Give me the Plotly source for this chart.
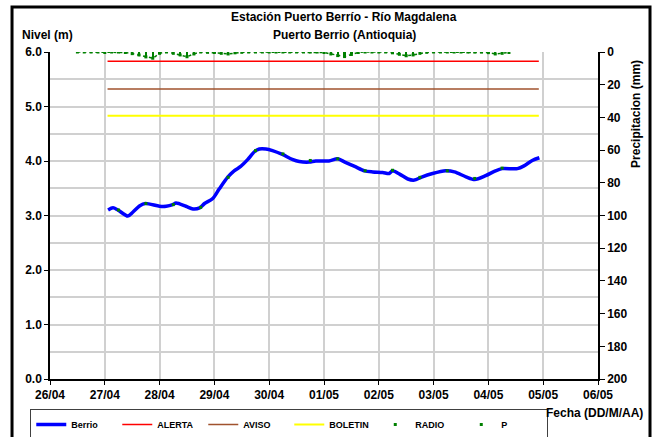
import pandas as pd
import plotly.graph_objects as go

BASE = pd.Timestamp("2011-04-26")

def to_dates(days):
    return [BASE + pd.Timedelta(days=d) for d in days]

# Nivel (m) - Berrio (days after 26/04 00:00)
berrio_days = [1.06, 1.15, 1.24, 1.42, 1.51, 1.64, 1.74, 2.0, 2.12, 2.24, 2.30, 2.48, 2.61, 2.73,
               2.82, 2.97, 3.09, 3.24, 3.36, 3.48, 3.61, 3.73, 3.82, 3.94, 4.06, 4.24, 4.42, 4.55,
               4.73, 4.85, 5.09, 5.25, 5.38, 5.56, 5.74, 5.89, 6.07, 6.19, 6.25, 6.38, 6.53, 6.65,
               6.77, 6.98, 7.22, 7.38, 7.59, 7.75, 7.95, 8.13, 8.25, 8.53, 8.65, 8.80, 8.93]
berrio_level = [3.10, 3.14, 3.10, 2.99, 3.06, 3.18, 3.22, 3.17, 3.17, 3.20, 3.23, 3.17, 3.12, 3.14,
                3.22, 3.31, 3.49, 3.70, 3.82, 3.90, 4.03, 4.17, 4.22, 4.22, 4.19, 4.12, 4.03, 3.99,
                3.98, 4.00, 4.00, 4.04, 3.98, 3.90, 3.82, 3.80, 3.79, 3.77, 3.82, 3.76, 3.67, 3.65,
                3.70, 3.77, 3.82, 3.80, 3.71, 3.66, 3.73, 3.82, 3.86, 3.86, 3.91, 4.01, 4.06]

# RADIO readings (m)
radio_days = [1.25, 1.75, 2.25, 2.75, 3.25, 3.75, 4.25, 4.75, 5.25, 5.75, 6.25, 6.75, 7.25, 7.75, 8.25]
radio_level = [3.10, 3.22, 3.20, 3.15, 3.70, 4.19, 4.13, 4.01, 4.04, 3.82, 3.83, 3.70, 3.82, 3.68, 3.87]

# Threshold levels (m)
threshold_days = [1.05, 8.92]
alerta = [5.83, 5.83]
aviso = [5.32, 5.32]
boletin = [4.83, 4.83]

# Precipitation P (mm), every 3 h from 26/04 12:00
p_days = [0.5 + 0.125 * i for i in range(64)]
p_mm = [0.0, 0.0, 0.0, 0.0, 0.3, 0.0, 0.0, 0.3,
        1.0, 1.8, 3.0, 3.8, 0.8, 0.0, 0.8, 1.8,
        2.9, 1.2, 0.0, 0.2, 0.3, 0.8, 1.2, 0.5,
        0.2, 0.0, 0.0, 0.0, 0.0, 0.0, 0.0, 0.0,
        0.0, 0.0, 0.0, 0.0, 0.3, 1.2, 2.2, 2.8,
        1.5, 0.3, 0.0, 0.0, 0.0, 0.0, 0.5, 1.4,
        2.3, 1.8, 0.8, 0.2, 0.0, 0.0, 0.0, 0.0,
        0.0, 0.0, 0.0, 0.0, 0.4, 1.2, 0.8, 0.3]

x_ticks = [BASE + pd.Timedelta(days=d) for d in range(11)]

FONT = "Arial, Liberation Sans, sans-serif"
GREEN = "#008000"

fig = go.Figure()
fig.add_trace(go.Scatter(x=to_dates(berrio_days), y=berrio_level, name="Berrio", mode="lines",
                         line=dict(color="#0000ff", width=3.5, shape="spline", smoothing=0.8)))
fig.add_trace(go.Scatter(x=to_dates(threshold_days), y=alerta, name="ALERTA", mode="lines",
                         line=dict(color="#ff0000", width=1.5)))
fig.add_trace(go.Scatter(x=to_dates(threshold_days), y=aviso, name="AVISO", mode="lines",
                         line=dict(color="#a0522d", width=1.5)))
fig.add_trace(go.Scatter(x=to_dates(threshold_days), y=boletin, name="BOLETIN", mode="lines",
                         line=dict(color="#ffff00", width=2)))
fig.add_trace(go.Scatter(x=to_dates(radio_days), y=radio_level, name="RADIO", mode="markers",
                         marker=dict(color=GREEN, size=3, symbol="square")))
fig.add_trace(go.Bar(x=to_dates(p_days), y=p_mm, name="P", yaxis="y2", showlegend=False,
                     width=3600000 * 1.0, marker=dict(color=GREEN, line=dict(width=0))))
fig.add_trace(go.Scatter(x=to_dates(p_days), y=p_mm, name="P", yaxis="y2", mode="lines",
                         showlegend=False, line=dict(color=GREEN, width=1.5, dash="dot")))
fig.add_trace(go.Scatter(x=to_dates(p_days), y=p_mm, name="P", yaxis="y2", mode="markers",
                         marker=dict(color=GREEN, size=3, symbol="square")))

tickfont = dict(family=FONT, size=12, color="black", weight="bold")

fig.update_layout(
    width=656, height=437,
    margin=dict(l=50, r=58, t=52, b=58, autoexpand=False),
    plot_bgcolor="white", paper_bgcolor="white",
    font=dict(family=FONT, color="black"),
    bargap=0,
    xaxis=dict(type="date", range=[x_ticks[0], x_ticks[-1]], tickvals=x_ticks, tickformat="%d/%m",
               showgrid=True, gridcolor="#d0d0d0", gridwidth=1.5, showline=True, linecolor="black",
               linewidth=1.5, ticks="outside", ticklen=4, tickcolor="black", tickfont=tickfont,
               zeroline=False, automargin=False),
    yaxis=dict(range=[0, 6], dtick=1, tickformat=".1f", showgrid=True, gridcolor="#d0d0d0",
               gridwidth=1.5, minor=dict(dtick=0.5, showgrid=True, gridcolor="#d0d0d0", gridwidth=1.5),
               showline=True, linecolor="black", linewidth=1.5, ticks="outside", ticklen=4,
               tickcolor="black", tickfont=tickfont, zeroline=False, automargin=False),
    yaxis2=dict(range=[200, 0], dtick=20, overlaying="y", side="right", showgrid=False,
                showline=True, linecolor="black", linewidth=1.5, ticks="outside", ticklen=5,
                tickcolor="black", tickfont=tickfont, zeroline=False, automargin=False),
    legend=dict(orientation="h", x=-0.036, y=-0.092, xanchor="left", yanchor="top",
                bordercolor="#404040", borderwidth=1, bgcolor="white",
                font=dict(family=FONT, size=9, color="black", weight="bold"),
                entrywidth=41, entrywidthmode="pixels", itemwidth=30, tracegroupgap=0),
    showlegend=True,
)

ann_font = dict(family=FONT, size=12, color="black", weight="bold")
fig.add_annotation(text="Estación Puerto Berrío - Río Magdalena", xref="paper", yref="paper",
                   x=0.5365, y=1.107, xanchor="center", yanchor="middle", showarrow=False, font=ann_font)
fig.add_annotation(text="Puerto Berrio (Antioquia)", xref="paper", yref="paper",
                   x=0.5365, y=1.052, xanchor="center", yanchor="middle", showarrow=False, font=ann_font)
fig.add_annotation(text="Nivel (m)", xref="paper", yref="paper", x=-0.0547, y=1.052,
                   xanchor="left", yanchor="middle", showarrow=False, font=ann_font)
fig.add_annotation(text="Precipitacion (mm)", xref="paper", yref="paper", x=1.069, y=0.81,
                   xanchor="center", yanchor="middle", textangle=-90, showarrow=False, font=ann_font)
fig.add_annotation(text="Fecha (DD/M/AA)", xref="paper", yref="paper", x=1.0858, y=-0.104,
                   xanchor="right", yanchor="middle", showarrow=False, font=ann_font)

fig.add_shape(type="rect", xref="paper", yref="paper", x0=-0.0693, x1=1.0949, y0=-0.2, y1=1.1376,
              line=dict(color="black", width=3), layer="below")

fig.write_html("out.html", config={"displayModeBar": False},
               post_script="document.body.style.margin='0px';")
